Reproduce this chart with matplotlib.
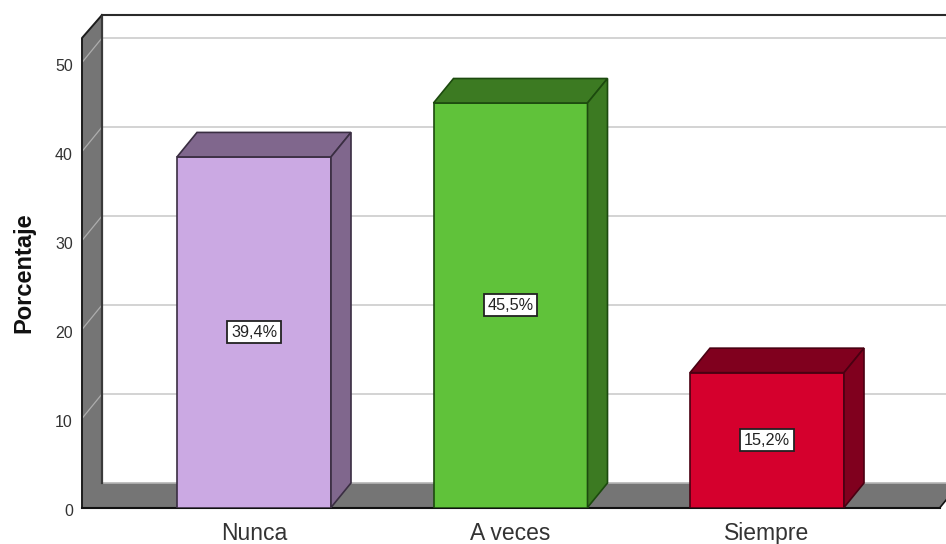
import matplotlib
matplotlib.use("Agg")
import matplotlib.pyplot as plt
from matplotlib.patches import Polygon
from matplotlib.transforms import ScaledTranslation

plt.rcParams['font.family'] = ['Liberation Sans', 'DejaVu Sans']

categories = ['Nunca', 'A veces', 'Siempre']
values = [39.39, 45.45, 15.15]
labels = ['39,4%', '45,5%', '15,2%']
y_ticks = [0, 10, 20, 30, 40, 50]

front_colors = ['#CBA9E3', '#60C23A', '#D5002D']
dark_colors = ['#80678D', '#3C7A22', '#80001E']
edge_colors = ['#3A2E42', '#1C4A0E', '#4A0012']

W, H = 946, 544
fig = plt.figure(figsize=(W / 100, H / 100), dpi=100)
L, R, T, B = 82, 946, 15, 507.5
ax = fig.add_axes([L / W, 1 - B / H, (R - L) / W, (B - T) / H])

PX_Y = 8.9           # pixels per value unit
PX_X = 256.5         # pixels per category
CENTER0 = 254
DX = 20 / PX_X       # 3D depth along x
DY = 24.5 / PX_Y     # 3D depth along y
BAR_W = 154 / PX_X
x_left = (L - CENTER0) / PX_X
x_right = (R - CENTER0) / PX_X
x_floor_end = (940 - CENTER0) / PX_X
y_top = (B - T) / PX_Y
ax.set_xlim(x_left, x_right)
ax.set_ylim(0, y_top)
for s in ax.spines.values():
    s.set_visible(False)

EDGE = '#1c1c1c'
WALL = '#757575'
GRID = '#d0d0d0'

# walls and floor as a single shape
wall_top_left = y_top - 23 / PX_Y
ax.add_patch(Polygon([(x_left, 0), (x_left, wall_top_left), (x_left + DX, y_top), (x_left + DX, DY),
                      (x_floor_end + DX, DY), (x_floor_end, 0)],
                     fc=WALL, ec='none', clip_on=True, zorder=1))
ax.plot([x_left, x_left, x_left + DX], [0, wall_top_left, y_top], color=EDGE, lw=1.4, zorder=2, clip_on=False)
ax.plot([x_left + DX, x_left + DX], [DY, y_top], color='#3a3a3a', lw=1.6, zorder=2)
ax.plot([x_left, x_floor_end], [0, 0], color='#111111', lw=1.5, zorder=2, clip_on=False)
ax.plot([x_floor_end, x_floor_end + DX], [0, DY], color='#111111', lw=1.2, zorder=2)
ax.plot([x_left + DX, x_right], [y_top, y_top], color='#2a2a2a', lw=1.5, zorder=2, clip_on=False)
ax.plot([x_left + DX, x_right], [DY, DY], color='#b5b5b5', lw=1.2, zorder=1.5)

# grid lines on the back wall and side wall
for v in y_ticks[1:]:
    ax.plot([x_left + DX, x_right], [v + DY, v + DY], color=GRID, lw=1.3, zorder=1.5)
    ax.plot([x_left, x_left + DX], [v, v + DY], color='#adadad', lw=0.9, zorder=1.5)

# bars
for i, (v, lab, fc, dc, ec) in enumerate(zip(values, labels, front_colors, dark_colors, edge_colors)):
    l, r = i - BAR_W / 2, i + BAR_W / 2
    ax.bar(i, v, width=BAR_W, color=fc, edgecolor=ec, linewidth=1.2, zorder=3)
    ax.add_patch(Polygon([(l, v), (l + DX, v + DY), (r + DX, v + DY), (r, v)],
                         fc=dc, ec=ec, lw=1.2, zorder=3))
    ax.add_patch(Polygon([(r, 0), (r + DX, DY), (r + DX, v + DY), (r, v)],
                         fc=dc, ec=ec, lw=1.2, zorder=3))
    ax.text(i, v / 2, lab, ha='center', va='center', fontsize=11.7, color='#222222', zorder=5,
            bbox=dict(boxstyle='square,pad=0.22', fc='white', ec='#222222', lw=1.3))

# axes text
ax.set_yticks(y_ticks)
ax.set_yticklabels([str(v) for v in y_ticks], fontsize=11.5, color='#333333')
ax.set_xticks(range(len(categories)))
ax.set_xticklabels(categories, fontsize=16.5, color='#333333')
ax.tick_params(axis='y', length=0, pad=6.5)
ax.tick_params(axis='x', length=0, pad=10.5)
shift = ScaledTranslation(0, -2.5 / 100, fig.dpi_scale_trans)
for t in ax.get_yticklabels():
    t.set_transform(t.get_transform() + shift)
ax.set_ylabel('Porcentaje', fontsize=17, fontweight='bold', color='#111111')
ax.yaxis.set_label_coords((35.5 - L) / (R - L), (B - 273) / (B - T))

fig.savefig('out.png', dpi=100)
